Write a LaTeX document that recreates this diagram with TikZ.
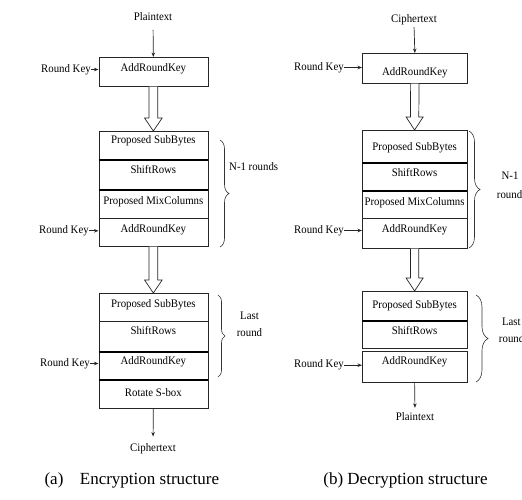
\documentclass[tikz,border=0pt]{standalone}
\usepackage{fontspec}
\setmainfont[FakeStretch=0.94]{Liberation Serif}
\newfontfamily\capfont{Liberation Serif}
\usetikzlibrary{calc,arrows.meta,decorations.pathreplacing}
\newcommand\hollowarr[5]{% from, to, head length, half shaft, half head
  \draw[hollow] ($(#1.south)+(-#4,0)$) -- ($(#2.north)+(-#4,-#3)$) -- ($(#2.north)+(-#5,-#3)$) -- (#2.north)
    -- ($(#2.north)+(#5,-#3)$) -- ($(#2.north)+(#4,-#3)$) -- ($(#1.south)+(#4,0)$);}
\begin{document}
\begin{tikzpicture}[x=1pt,y=-1pt,
  lc/.style={draw=black!85, line width=0.7pt},
  row/.style={lc, anchor=north west, inner sep=0pt, font=\fontsize{11.5}{13}\selectfont},
  txt/.style={inner sep=0pt, anchor=base, font=\fontsize{11.5}{13}\selectfont},
  arr/.style={lc, -{Stealth[length=4.5pt,width=3.5pt]}},
  hollow/.style={lc, fill=white, line join=miter},
  sepline/.style={draw=black, line width=1.8pt},
  brc/.style={draw=black!80, line width=0.6pt, decorate, decoration={brace, amplitude=#1}},
  captxt/.style={inner sep=0pt, anchor=base, font=\capfont\fontsize{17}{20}\selectfont}]
\useasboundingbox (0,0) rectangle (522,499);

% ---------- left: encryption ----------
\node[row, minimum width=109pt, minimum height=29pt, text height=14.5pt, text depth=14.5pt] (ark0) at (98.5,57) {AddRoundKey};
\node[row, minimum width=109pt, minimum height=28.5pt, text height=12pt, text depth=16.5pt] (sb1) at (98.5,131) {Proposed SubBytes};
\node[row, minimum width=109pt, minimum height=29.5pt, text height=13.8pt, text depth=15.7pt] (sr1) at (98.5,159.5) {ShiftRows};
\node[row, minimum width=109pt, minimum height=29pt, text height=15pt, text depth=14pt] (mc1) at (98.5,189) {Proposed MixColumns};
\node[row, minimum width=109pt, minimum height=28pt, text height=13.7pt, text depth=14.3pt] (ak1) at (98.5,218) {AddRoundKey};
\node[row, minimum width=109pt, minimum height=28pt, text height=13.7pt, text depth=14.3pt] (sb2) at (98.5,293) {Proposed SubBytes};
\node[row, minimum width=109pt, minimum height=30pt, text height=13.3pt, text depth=16.7pt] (sr2) at (98.5,321) {ShiftRows};
\node[row, minimum width=109pt, minimum height=28pt, text height=13pt, text depth=15pt] (ak2) at (98.5,351) {AddRoundKey};
\node[row, minimum width=109pt, minimum height=29pt, text height=17pt, text depth=12pt] (rot) at (98.5,379) {Rotate S-box};
\draw[sepline] (sb1.south west) -- (sb1.south east);
\draw[sepline] (sr1.south west) -- (sr1.south east);
\draw[sepline] (sr2.south west) -- (sr2.south east);
\draw[sepline] (ak2.south west) -- (ak2.south east);

\node[txt] (ptA) at (153,20.5) {Plaintext};
\node[txt, anchor=base west] (rkA0) at (41,72) {Round Key};
\node[txt, anchor=base west] (rkA1) at (39,233.3) {Round Key};
\node[txt, anchor=base west] (rkA2) at (40,366) {Round Key};
\node[txt, anchor=base west] (n1A) at (229,170) {N-1 rounds};
\node[txt] (lastA) at (249.5,319) {Last};
\node[txt] (roundA) at (249.5,336.7) {round};
\node[txt] (ctA) at (153,451.7) {Ciphertext};

\draw[arr, shorten <=9pt] (ptA.south) -- (ark0.north);
\draw[arr] ([yshift=2.5pt]rkA0.base east) -- ([yshift=2.5pt]rkA0.base east -| ark0.west);
\draw[arr] ([yshift=2.5pt]rkA1.base east) -- ([yshift=2.5pt]rkA1.base east -| ak1.west);
\draw[arr] ([yshift=2.5pt]rkA2.base east) -- ([yshift=2.5pt]rkA2.base east -| ak2.west);
\draw[arr, shorten >=7pt] (rot.south) -- (ctA.north);
\hollowarr{ark0}{sb1}{13}{4.4}{8.8}
\hollowarr{ak1}{sb2}{13}{4.4}{8.8}
\draw[brc=9pt] (220,140) -- (220,247);
\draw[brc=7pt] (218,295) -- (218,377);

% ---------- right: decryption ----------
\node[row, minimum width=105pt, minimum height=30pt, text height=22pt, text depth=8pt] (akB0) at (362,53) {AddRoundKey};
\node[row, minimum width=104.5pt, minimum height=32pt, text height=20pt, text depth=12pt] (sbB1) at (362,130) {Proposed SubBytes};
\node[row, minimum width=104.5pt, minimum height=28pt, text height=14pt, text depth=14pt] (srB1) at (362,162) {ShiftRows};
\node[row, minimum width=104.5pt, minimum height=28pt, text height=15pt, text depth=13pt] (mcB1) at (362,190) {Proposed MixColumns};
\node[row, minimum width=104.5pt, minimum height=30pt, text height=13.7pt, text depth=16.3pt] (akB1) at (362,218) {AddRoundKey};
\node[row, minimum width=104.5pt, minimum height=29pt, text height=17.3pt, text depth=11.7pt] (sbB2) at (362,291) {Proposed SubBytes};
\node[row, minimum width=104.5pt, minimum height=28pt, text height=14pt, text depth=14pt] (srB2) at (362,320) {ShiftRows};
\node[row, minimum width=104.5pt, minimum height=31pt, text height=13.3pt, text depth=17.7pt] (akB2) at (362,351) {AddRoundKey};
\draw[sepline] (sbB1.south west) -- (sbB1.south east);
\draw[sepline] (srB1.south west) -- (srB1.south east);
\draw[sepline] (sbB2.south west) -- (sbB2.south east);

\node[txt] (ctB) at (414,22.5) {Ciphertext};
\node[txt, anchor=base west] (rkB0) at (294,70) {Round Key};
\node[txt, anchor=base west] (rkB1) at (294,233) {Round Key};
\node[txt, anchor=base west] (rkB2) at (294,367.7) {Round Key};
\node[txt] (n1B) at (510,179.3) {N-1};
\node[txt] (roundsB) at (511.7,198) {rounds};
\node[txt] (lastB) at (511.3,325.7) {Last};
\node[txt] (roundB) at (511.6,342.7) {round};
\node[txt] (ptB) at (415,420) {Plaintext};

\draw[arr, shorten <=2pt] (ctB.south) -- (akB0.north);
\draw[arr] ([yshift=2.5pt]rkB0.base east) -- ([yshift=2.5pt]rkB0.base east -| akB0.west);
\draw[arr] ([yshift=2.5pt]rkB1.base east) -- ([yshift=2.5pt]rkB1.base east -| akB1.west);
\draw[arr] ([yshift=2.5pt]rkB2.base east) -- ([yshift=2.5pt]rkB2.base east -| akB2.west);
\draw[arr, shorten >=4pt] (akB2.south) -- (ptB.north);
\hollowarr{akB0}{sbB1}{13}{4.2}{8.5}
\hollowarr{akB1}{sbB2}{13}{4.2}{8.5}
\draw[brc=11pt] (469,131) -- (469,248);
\draw[brc=12pt] (476,295) -- (476,382);

% ---------- captions ----------
\node[captxt] (capA1) at (54,484.3) {(a)};
\node[captxt] (capA2) at (149.5,484.3) {Encryption structure};
\node[captxt] (capB) at (405.5,484.3) {(b) Decryption structure};
\end{tikzpicture}
\end{document}
